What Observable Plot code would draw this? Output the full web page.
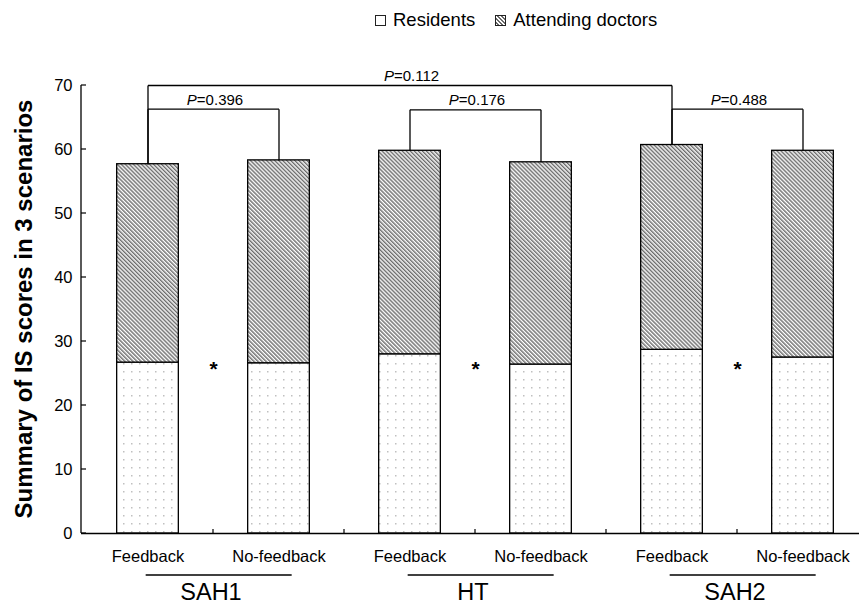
<!DOCTYPE html>
<html><head><meta charset="utf-8">
<script src="https://cdn.jsdelivr.net/npm/d3@7"></script>
<script src="https://cdn.jsdelivr.net/npm/@observablehq/plot@0.6"></script>
<style>
body{margin:0;background:#fff;font-family:"Liberation Sans",Arial,sans-serif;color:#000;}
#legend{height:40px;display:flex;align-items:center;padding-left:375px;font-size:18.5px;}
#legend .sw{display:inline-block;width:11px;height:11px;box-sizing:border-box;border:1px solid #222;margin-right:7px;}
#legend .item{display:flex;align-items:center;margin-right:20px;}
#chart svg{display:block;}
</style></head><body>
<div id="legend"></div>
<div id="chart"></div>
<script>
// ---- data ----
const groups = ["SAH1", "HT", "SAH2"];
const conditions = ["Feedback", "No-feedback"];
const series = ["Residents", "Attending doctors"];
// order: SAH1-Feedback, SAH1-No-feedback, HT-Feedback, HT-No-feedback, SAH2-Feedback, SAH2-No-feedback
const residents = [26.7, 26.6, 28.0, 26.4, 28.7, 27.5];
const attending = [31.0, 31.7, 31.8, 31.6, 32.0, 32.3];
const yTicks = [0, 10, 20, 30, 40, 50, 60, 70];
const yTitle = "Summary of IS scores in 3 scenarios";
// comparisons: from bar, to bar, bracket level, p value
const compFrom = ["SAH1|Feedback", "HT|Feedback", "SAH2|Feedback", "SAH1|Feedback"];
const compTo = ["SAH1|No-feedback", "HT|No-feedback", "SAH2|No-feedback", "SAH2|Feedback"];
const compLevel = [66.3, 66.2, 66.3, 70];
const compP = ["0.396", "0.176", "0.488", "0.112"];
const starLevel = [25.7, 25.7, 25.7];

// ---- derived tables ----
const keys = groups.flatMap(g => conditions.map(c => g + "|" + c));
const rows = keys.map((k, i) => ({key: k, res: residents[i], total: residents[i] + attending[i]}));
const totalOf = Object.fromEntries(rows.map(r => [r.key, r.total]));
const comps = compFrom.map((a, i) => ({a, b: compTo[i], level: compLevel[i], p: compP[i]}));
const legs = comps.flatMap(c => [{x: c.a, from: totalOf[c.a], to: c.level}, {x: c.b, from: totalOf[c.b], to: c.level}]);
const stars = groups.map((g, i) => ({key: g + "|" + conditions[0], y: starLevel[i]}));

const X0 = 81, X1 = 869;
const bw = (X1 - X0) / keys.length;
const barW = 62;
const inset = (bw - barW) / 2;
const font = "'Liberation Sans', Arial, sans-serif";

// legend
const leg = d3.select("#legend");
series.forEach((s, i) => {
  const it = leg.append("span").attr("class", "item");
  const sw = it.append("span").attr("class", "sw");
  if (i === 1) sw.style("background", "repeating-linear-gradient(45deg,#fff 0px,#fff 1.3px,#6a6a6a 1.3px,#6a6a6a 2.8px)");
  else sw.style("background", "#fff");
  it.append("span").text(s);
});

const defsMark = () => {
  const g = d3.create("svg:g");
  const defs = g.append("defs");
  const st = defs.append("pattern").attr("id", "stripes").attr("patternUnits", "userSpaceOnUse")
    .attr("width", 2.85).attr("height", 2.85).attr("patternTransform", "rotate(-45)");
  st.append("rect").attr("width", 2.85).attr("height", 2.85).attr("fill", "#fff");
  st.append("rect").attr("width", 1.45).attr("height", 2.85).attr("fill", "#6e6e6e");
  const dt = defs.append("pattern").attr("id", "dots").attr("patternUnits", "userSpaceOnUse")
    .attr("width", 8).attr("height", 8);
  dt.append("rect").attr("width", 8).attr("height", 8).attr("fill", "#fff");
  dt.append("rect").attr("x", 3).attr("y", 3).attr("width", 1.5).attr("height", 1.5).attr("fill", "#c0c0c0");
  return g.node();
};

const decor = (index, scales) => {
  const sx = scales.x, sy = scales.y;
  const g = d3.create("svg:g").attr("font-family", font).attr("fill", "#000");
  const y0 = sy(0);
  // y axis line and inward ticks
  g.append("line").attr("x1", X0).attr("x2", X0).attr("y1", y0).attr("y2", sy(yTicks[yTicks.length - 1]))
    .attr("stroke", "#000").attr("stroke-width", 1.3);
  yTicks.forEach(t => g.append("line").attr("x1", X0).attr("x2", X0 + 5).attr("y1", sy(t)).attr("y2", sy(t))
    .attr("stroke", "#000").attr("stroke-width", 1.2));
  // x ticks at band boundaries
  keys.slice(1).forEach(k => g.append("line").attr("x1", sx(k)).attr("x2", sx(k)).attr("y1", y0).attr("y2", y0 - 4)
    .attr("stroke", "#000").attr("stroke-width", 1.2));
  // y title
  g.append("text").attr("transform", `translate(32,${(y0 + sy(70)) / 2}) rotate(-90)`)
    .attr("text-anchor", "middle").attr("font-weight", "bold").attr("font-size", 24).text(yTitle);
  // p labels
  comps.forEach(c => {
    const xm = (sx(c.a) + sx(c.b)) / 2 + sx.bandwidth() / 2;
    const t = g.append("text").attr("x", xm + 2).attr("y", sy(c.level) - 4).attr("text-anchor", "middle").attr("font-size", 15);
    t.append("tspan").attr("font-style", "italic").text("P");
    t.append("tspan").text("=" + c.p);
  });
  // group underlines and labels
  groups.forEach(gr => {
    const a = gr + "|" + conditions[0], b = gr + "|" + conditions[1];
    const ca = sx(a) + bw / 2, cb = sx(b) + bw / 2;
    g.append("line").attr("x1", ca - 2).attr("x2", cb + 13).attr("y1", y0 + 42).attr("y2", y0 + 42)
      .attr("stroke", "#000").attr("stroke-width", 1.3);
    g.append("text").attr("x", sx(b) - 2).attr("y", y0 + 67).attr("text-anchor", "middle")
      .attr("font-size", 23.5).text(gr);
  });
  return g.node();
};

const chart = Plot.plot({
  width: 859, height: 566,
  marginLeft: 81, marginRight: 0, marginTop: 45, marginBottom: 73,
  style: {fontFamily: font, fontSize: "16.5px", color: "#000", background: "#fff", overflow: "visible"},
  x: {type: "band", domain: keys, range: [X0, X1], padding: 0, axis: null},
  y: {domain: [0, 70], axis: null},
  marks: [
    defsMark,
    Plot.barY(rows, {x: "key", y1: 0, y2: "res", fill: "url(#dots)", stroke: "#000", strokeWidth: 1.3, insetLeft: inset, insetRight: inset}),
    Plot.barY(rows, {x: "key", y1: "res", y2: "total", fill: "url(#stripes)", stroke: "#000", strokeWidth: 1.3, insetLeft: inset, insetRight: inset}),
    Plot.ruleY([0], {stroke: "#000", strokeWidth: 1.3}),
    Plot.axisY({ticks: yTicks, tickSize: 0, tickPadding: 9, fontSize: 16.5, label: null}),
    Plot.axisX({tickFormat: k => k.split("|")[1], tickSize: 0, tickPadding: 17, fontSize: 16.5, label: null}),
    Plot.link(legs, {x1: "x", x2: "x", y1: "from", y2: "to", stroke: "#000", strokeWidth: 1.3}),
    Plot.link(comps, {x1: "a", x2: "b", y1: "level", y2: "level", stroke: "#000", strokeWidth: 1.3}),
    Plot.text(stars, {x: "key", y: "y", dx: bw / 2, text: () => "*", fontSize: 21, fontWeight: "bold"}),
    decor
  ]
});
document.getElementById("chart").appendChild(chart);
</script>
</body></html>
